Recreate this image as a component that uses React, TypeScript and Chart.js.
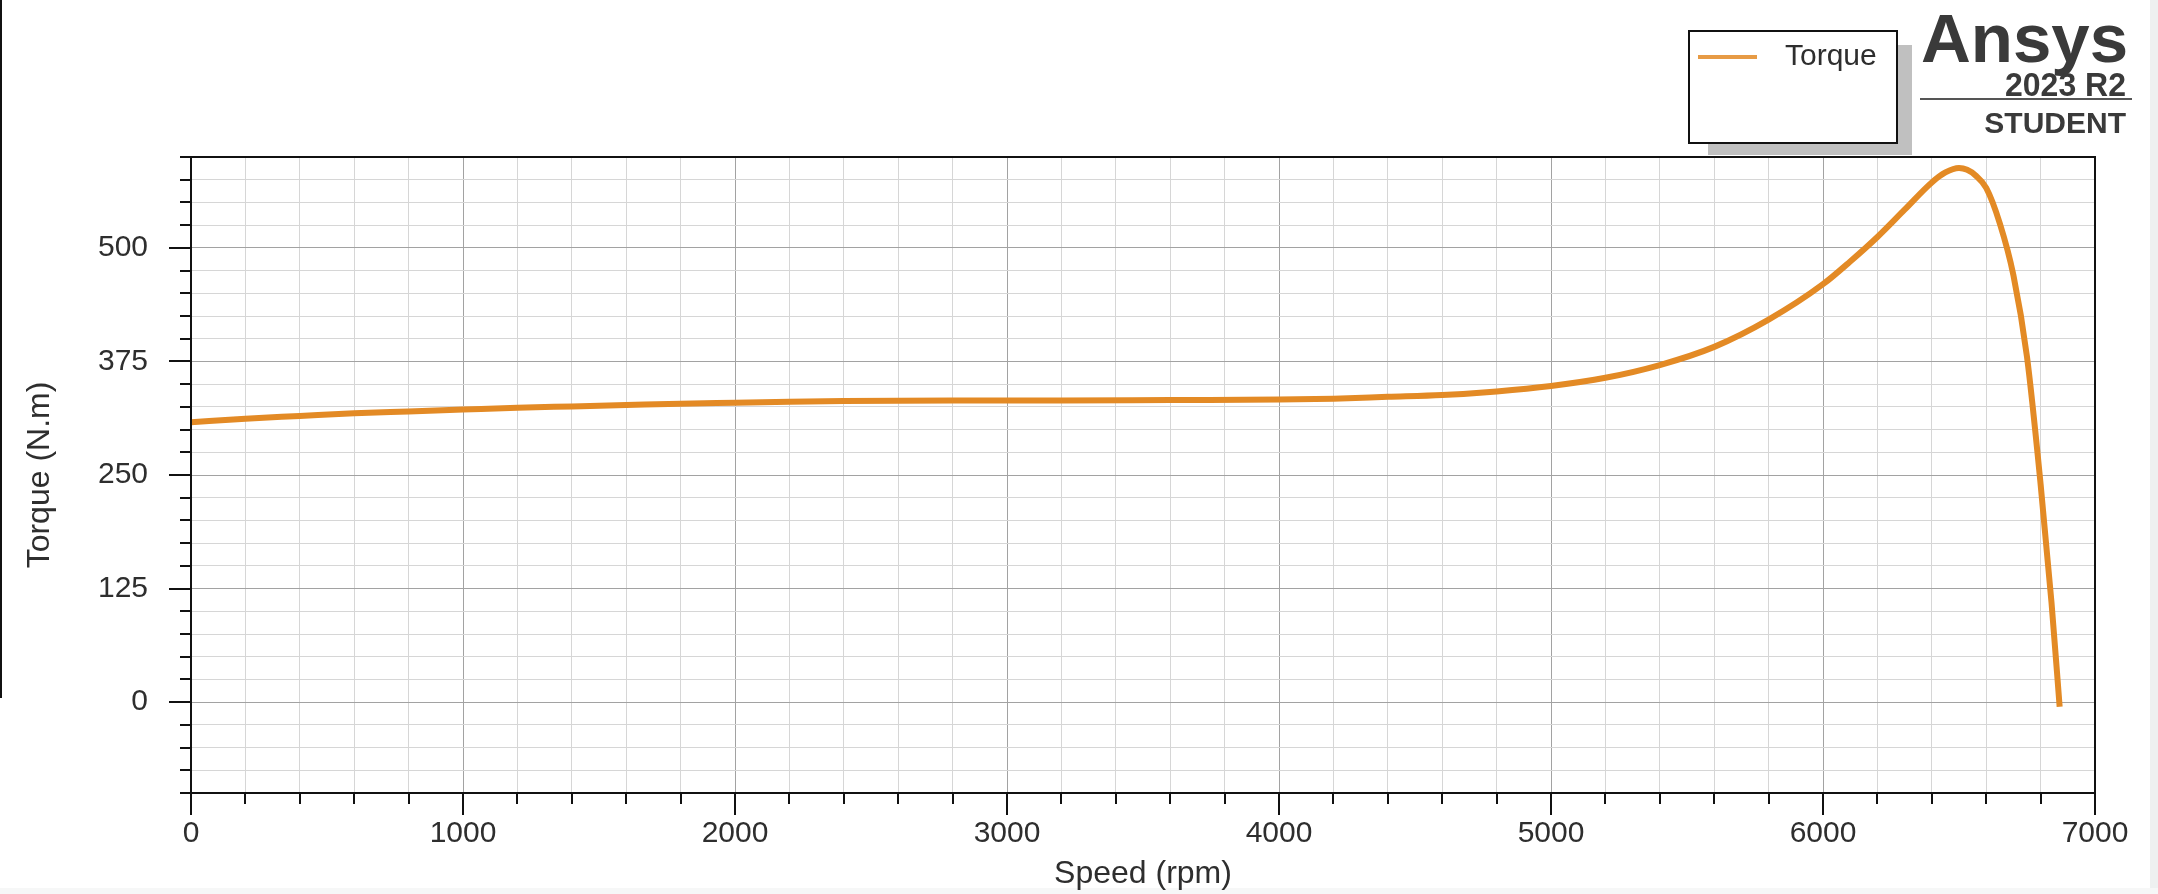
import { useEffect, useRef } from 'react';
import { Chart, registerables } from 'chart.js';

Chart.register(...registerables);

// ---- data ----
const speedRpm = [
  0, 200, 400, 600, 800, 1000, 1200, 1400, 1600, 1800, 2000, 2200, 2400, 2800, 3200, 3600,
  4000, 4200, 4400, 4600, 4800, 5000, 5200, 5400, 5600, 5800, 6000, 6100, 6200, 6300, 6400,
  6450, 6500, 6530, 6560, 6600, 6650, 6700, 6750, 6800, 6840, 6870,
];
const torqueNm = [
  308, 312, 315, 318, 320, 322, 324, 325.5, 327, 328.5, 329.5, 330.5, 331.5, 332, 332, 332.5,
  333, 334, 336, 338, 342, 348, 357, 371, 391, 421, 460, 485, 512, 542, 572,
  583, 588, 586, 580, 566, 527, 470, 380, 240, 110, -5,
];

const seriesLabel = 'Torque';
const xTitle = 'Speed (rpm)';
const yTitle = 'Torque (N.m)';
const xMin = 0;
const xMax = 7000;
const xMinorStep = 200;
const xMajorStep = 1000;
const yMin = -100;
const yMax = 600;
const yMinorStep = 25;
const yMajorStep = 125;
const logoName = 'Ansys';
const logoVersion = '2023 R2';
const logoEdition = 'STUDENT';

// ---- styles ----
const W = 2158;
const H = 894;
const LINE_COLOR = '#e38a25';
const TEXT_COLOR = '#2e2e2e';
const FONT = "'Liberation Sans', Arial, sans-serif";
const MAJOR_GRID = '#a2a2a2';
const MINOR_GRID = '#d6d6d6';

const isMultiple = (v: number, step: number) => {
  const r = Math.abs(v / step - Math.round(v / step));
  return r < 1e-6;
};

const ansysPlugin = {
  id: 'ansysDecor',
  beforeDraw(chart: any) {
    const ctx = chart.ctx as CanvasRenderingContext2D;
    ctx.save();
    ctx.fillStyle = '#ffffff';
    ctx.fillRect(0, 0, W, H);
    ctx.fillStyle = '#eef0f0';
    ctx.fillRect(2150, 0, W - 2150, H);
    ctx.fillStyle = '#f6f7f7';
    ctx.fillRect(0, 888, W, H - 888);
    ctx.fillStyle = '#111111';
    ctx.fillRect(0, 0, 2, 698);
    ctx.restore();
  },
  afterDraw(chart: any) {
    const ctx = chart.ctx as CanvasRenderingContext2D;
    const { left, right, top, bottom } = chart.chartArea;
    const xs = chart.scales.x;
    const ys = chart.scales.y;
    ctx.save();

    // tick marks (outside)
    ctx.strokeStyle = '#111111';
    ctx.lineWidth = 2;
    ctx.beginPath();
    xs.ticks.forEach((t: any) => {
      const px = Math.round(xs.getPixelForValue(t.value));
      const len = isMultiple(t.value, xMajorStep) ? 22 : 11;
      ctx.moveTo(px, bottom);
      ctx.lineTo(px, bottom + len);
    });
    ys.ticks.forEach((t: any) => {
      const py = Math.round(ys.getPixelForValue(t.value));
      const len = isMultiple(t.value, yMajorStep) ? 22 : 11;
      ctx.moveTo(left, py);
      ctx.lineTo(left - len, py);
    });
    ctx.stroke();

    // frame
    ctx.strokeRect(left, top, right - left, bottom - top);

    // legend (shadow + box)
    const ds = chart.data.datasets[0];
    ctx.fillStyle = '#c0c0c0';
    ctx.fillRect(1708, 45, 204, 110);
    ctx.fillStyle = '#ffffff';
    ctx.fillRect(1689, 31, 208, 112);
    ctx.strokeStyle = '#111111';
    ctx.lineWidth = 2;
    ctx.strokeRect(1689, 31, 208, 112);
    ctx.strokeStyle = ds.borderColor;
    ctx.globalAlpha = 0.85;
    ctx.lineWidth = 4;
    ctx.beginPath();
    ctx.moveTo(1698, 57);
    ctx.lineTo(1757, 57);
    ctx.stroke();
    ctx.globalAlpha = 1;
    ctx.fillStyle = TEXT_COLOR;
    ctx.font = `30px ${FONT}`;
    ctx.textAlign = 'left';
    ctx.textBaseline = 'alphabetic';
    ctx.fillText(ds.label, 1785, 65);

    // logo
    ctx.fillStyle = '#3a3a3a';
    ctx.textAlign = 'right';
    ctx.font = `bold 69px ${FONT}`;
    ctx.fillText(logoName, 2128, 62);
    ctx.font = `bold 33px ${FONT}`;
    ctx.fillText(logoVersion, 2126, 96, 121);
    ctx.fillStyle = '#555555';
    ctx.fillRect(1920, 98, 212, 2);
    ctx.fillStyle = '#3a3a3a';
    ctx.font = `bold 30px ${FONT}`;
    ctx.fillText(logoEdition, 2126, 133, 149);

    ctx.restore();
  },
};

export default function App() {
  const canvasRef = useRef<HTMLCanvasElement | null>(null);

  useEffect(() => {
    const canvas = canvasRef.current;
    if (!canvas) return;
    const points = speedRpm.map((s, i) => ({ x: s, y: torqueNm[i] }));
    const chart = new Chart(canvas, {
      type: 'line',
      data: {
        datasets: [
          {
            label: seriesLabel,
            data: points,
            borderColor: LINE_COLOR,
            backgroundColor: LINE_COLOR,
            borderWidth: 6,
            pointRadius: 0,
            cubicInterpolationMode: 'monotone',
            fill: false,
          },
        ],
      },
      options: {
        animation: false,
        responsive: false,
        devicePixelRatio: 1,
        events: [],
        layout: { padding: { top: 157, right: 63, left: 0, bottom: 0 } },
        plugins: {
          legend: { display: false },
          tooltip: { enabled: false },
          title: { display: false },
        },
        scales: {
          x: {
            type: 'linear',
            min: xMin,
            max: xMax,
            border: { display: false },
            grid: {
              drawTicks: false,
              lineWidth: 1,
              color: (c: any) => (isMultiple(c.tick.value, xMajorStep) ? MAJOR_GRID : MINOR_GRID),
            },
            ticks: {
              stepSize: xMinorStep,
              autoSkip: false,
              maxRotation: 0,
              padding: 23,
              color: TEXT_COLOR,
              font: { family: FONT, size: 30 },
              callback: (v: any) => (isMultiple(Number(v), xMajorStep) ? String(v) : ''),
            },
            title: {
              display: true,
              text: xTitle,
              color: TEXT_COLOR,
              font: { family: FONT, size: 32 },
              padding: { top: 0, bottom: 1 },
            },
            afterFit: (s: any) => {
              s.height = 101;
            },
          },
          y: {
            type: 'linear',
            min: yMin,
            max: yMax,
            border: { display: false },
            grid: {
              drawTicks: false,
              lineWidth: 1,
              color: (c: any) => (isMultiple(c.tick.value, yMajorStep) ? MAJOR_GRID : MINOR_GRID),
            },
            ticks: {
              stepSize: yMinorStep,
              autoSkip: false,
              padding: 43,
              color: TEXT_COLOR,
              font: { family: FONT, size: 30 },
              callback: (v: any) => (isMultiple(Number(v), yMajorStep) ? String(v) : ''),
            },
            title: {
              display: true,
              text: yTitle,
              color: TEXT_COLOR,
              font: { family: FONT, size: 32 },
              padding: { top: 21, bottom: 0 },
            },
            afterFit: (s: any) => {
              s.width = 191;
            },
          },
        },
      },
      plugins: [ansysPlugin],
    });
    return () => chart.destroy();
  }, []);

  return (
    <div style={{ position: 'fixed', left: 0, top: 0, width: W, height: H, background: '#ffffff' }}>
      <canvas ref={canvasRef} width={W} height={H} style={{ display: 'block', width: W, height: H }} />
    </div>
  );
}
